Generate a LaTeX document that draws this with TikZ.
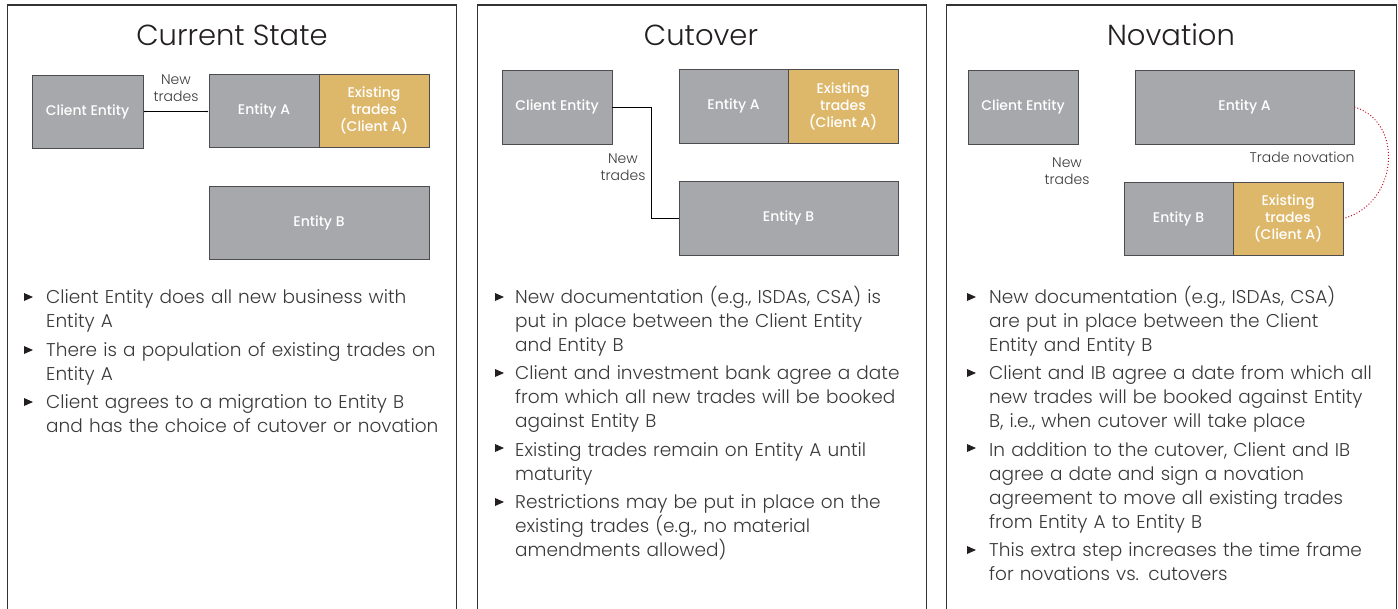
\documentclass[tikz,border=0pt]{standalone}
\usepackage{fontspec}
\setmainfont{Poppins}[UprightFont={* Light}]
\newfontfamily\labelfont{Poppins}[UprightFont={* Medium}]
\usetikzlibrary{arrows.meta}
\definecolor{boxgray}{HTML}{A7A8AB}
\definecolor{boxedge}{HTML}{4D4D4F}
\definecolor{gold}{HTML}{DDB76A}
\definecolor{ink}{HTML}{3A3A3A}
\definecolor{titleink}{HTML}{231F20}
\definecolor{panelline}{HTML}{333333}
\definecolor{novred}{HTML}{C8102E}
\tikzset{
  panel/.style={draw=panelline, line width=1.6pt},
  title/.style={font=\fontsize{29}{33}\selectfont, text=titleink, inner sep=0pt},
  entity/.style={draw=boxedge, line width=0.8pt, fill=boxgray, text=white,
    font=\labelfont\fontsize{14}{17}\selectfont, align=center, inner sep=0pt},
  trades/.style={entity, fill=gold},
  small/.style={font=\fontsize{14}{17}\selectfont, text=ink, align=center, inner sep=0pt},
  link/.style={draw=black, line width=0.8pt},
  bul/.style={font=\fontsize{18.5}{24}\selectfont, text=ink, text width=440pt,
    anchor=base west, inner sep=0pt},
  pics/mark/.style={code={\fill[titleink] (0,-10) -- (9,-6) -- (0,-2) -- cycle;}}
}
\begin{document}
\begin{tikzpicture}[x=1pt, y=-1pt]
\useasboundingbox (0,0) rectangle (1398,608);
\clip (0,0) rectangle (1398,608);
\fill[white] (0,0) rectangle (1398,608);

% frames, open at the bottom edge
\draw[panel] (7.5,5) rectangle (456.5,620);
\draw[panel] (477.5,5) rectangle (926.5,620);
\draw[panel] (946.5,5) rectangle (1396.5,620);

% ---------- Current State ----------
\node[title] (t1) at (232,35) {Current State};
\node[entity, minimum width=111pt, minimum height=73pt] (ce1) at (87.5,111.5) {Client Entity};
\node[entity, minimum width=110pt, minimum height=73pt] (ea1) at (264,110.5) {Entity A};
\node[trades, minimum width=110pt, minimum height=73pt] (ex1) at (374,110.5) {Existing\\trades\\(Client A)};
\node[entity, minimum width=220pt, minimum height=73pt] (eb1) at (319,222.5) {Entity B};
\draw[link, {Latex[length=2pt,width=2pt]}-{Latex[length=2pt,width=2pt]}] (ce1.east) -- (ce1.east -| ea1.west);
\node[small] (n1) at (176,88) {New\\trades};

\pic at (24,303) {mark};
\node[bul] (b11) at (46,303) {Client Entity does all new business with\\Entity A};
\pic at (24,356) {mark};
\node[bul] (b12) at (46,356) {There is a population of existing trades on\\Entity A};
\pic at (24,408) {mark};
\node[bul] (b13) at (46,408) {Client agrees to a migration to Entity B\\and has the choice of cutover or novation};

% ---------- Cutover ----------
\node[title] (t2) at (701,35) {Cutover};
\node[entity, minimum width=110pt, minimum height=74pt] (ce2) at (557,107) {Client Entity};
\node[entity, minimum width=109pt, minimum height=74pt] (ea2) at (733.5,106) {Entity A};
\node[trades, minimum width=110pt, minimum height=74pt] (ex2) at (843,106) {Existing\\trades\\(Client A)};
\node[entity, minimum width=219pt, minimum height=74pt] (eb2) at (788.5,218) {Entity B};
\draw[link] (ce2.east) -- ++(39,0) |- (eb2.west);
\node[small] (n2) at (623,167) {New\\trades};

\pic at (495,303) {mark};
\node[bul] (b21) at (515,303) {New documentation (e.g., ISDAs, CSA) is\\put in place between the Client Entity\\and Entity B};
\pic at (495,379) {mark};
\node[bul] (b22) at (515,379) {Client and investment bank agree a date\\from which all new trades will be booked\\against Entity B};
\pic at (495,454) {mark};
\node[bul] (b23) at (515,456) {Existing trades remain on Entity A until\\maturity};
\pic at (495,508) {mark};
\node[bul] (b24) at (515,508) {Restrictions may be put in place on the\\existing trades (e.g., no material\\amendments allowed)};

% ---------- Novation ----------
\node[title] (t3) at (1171,35) {Novation};
\node[entity, minimum width=110pt, minimum height=74pt] (ce3) at (1023,107) {Client Entity};
\node[entity, minimum width=219pt, minimum height=74pt] (ea3) at (1244.5,107) {Entity A};
\node[entity, minimum width=109pt, minimum height=73pt] (eb3) at (1178.5,218.5) {Entity B};
\node[trades, minimum width=110pt, minimum height=73pt] (ex3) at (1288,218.5) {Existing\\trades\\(Client A)};
\draw[novred, line width=1pt, dotted] (ea3.east) .. controls +(50,15) and +(55,-15) .. (ex3.east);
\node[small] (nov) at (1302,157) {Trade novation};
\node[small] (n3) at (1067,171) {New\\trades};

\pic at (967,303) {mark};
\node[bul] (b31) at (989,303) {New documentation (e.g., ISDAs, CSA)\\are put in place between the Client\\Entity and Entity B};
\pic at (967,379) {mark};
\node[bul] (b32) at (989,379) {Client and IB agree a date from which all\\new trades will be booked against Entity\\B, i.e., when cutover will take place};
\pic at (967,454) {mark};
\node[bul] (b33) at (989,456) {In addition to the cutover, Client and IB\\agree a date and sign a novation\\agreement to move all existing trades\\from Entity A to Entity B};
\pic at (967,556) {mark};
\node[bul] (b34) at (989,556) {This extra step increases the time frame\\for novations vs. cutovers};
\end{tikzpicture}
\end{document}
